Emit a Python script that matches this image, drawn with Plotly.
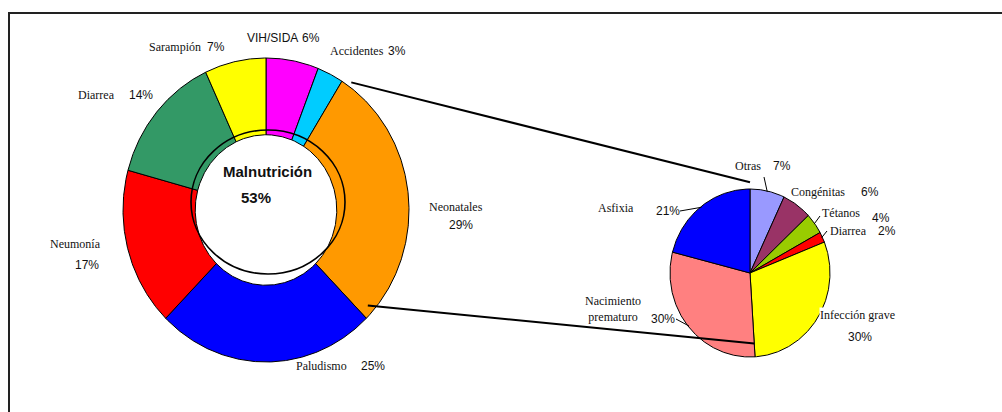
import numpy as np
import plotly.graph_objects as go

# ---------------- data ----------------
donut_labels = ["VIH/SIDA", "Accidentes", "Neonatales", "Paludismo", "Neumonía", "Diarrea", "Sarampión"]
donut_values = [6, 3, 29, 25, 17, 14, 7]
donut_colors = ["#FF00FF", "#00CCFF", "#FF9900", "#0000FF", "#FF0000", "#339966", "#FFFF00"]

neo_labels = ["Otras", "Congénitas", "Tétanos", "Diarrea", "Infección grave", "Nacimiento<br>prematuro", "Asfixia"]
neo_values = [7, 6, 4, 2, 30, 30, 21]
neo_colors = ["#9999FF", "#993366", "#99CC00", "#FF0000", "#FFFF00", "#FF8080", "#0000FF"]

center_label = "Malnutrición"
center_value = 53

# ---------------- layout constants (pixel space) ----------------
W, H = 1002, 412
DONUT = dict(cx=266, cy=210, rx=143, ry=152, hole=0.495)
PIE = dict(cx=750, cy=273, rx=80, ry=84, hole=0.0)
MAL = dict(cx=268, cy=202, rx=77, ry=72)
SERIF = "Liberation Serif, Times New Roman, serif"
SANS = "Liberation Sans, Arial, sans-serif"
FS = 12

# label placement (name center x, name y, pct center x, pct y, name font)
donut_label_pos = [
    (272, 38, 311, 38, SANS),
    (357, 51, 397, 51, SERIF),
    (456, 207, 461, 225, SERIF),
    (321, 366, 373, 366, SERIF),
    (75, 244, 87, 265, SERIF),
    (96, 95, 141, 95, SERIF),
    (175, 47, 216, 47, SERIF),
]
neo_label_pos = [
    (748, 166, 782, 166),
    (818, 192, 870, 192),
    (841, 213, 881, 218),
    (848, 231, 887, 231),
    (857, 315, 860, 337),
    (613, 309, 663, 319),
    (616, 208, 668, 211),
]
# leader line label-side anchor points (None = no leader)
neo_leader_from = [(764, 177), None, (820, 216), (827, 231), None, (676, 319), (680, 211)]


def pt(g, ang_deg, r):
    a = np.deg2rad(ang_deg)
    return g["cx"] + r * g["rx"] * np.sin(a), g["cy"] - r * g["ry"] * np.cos(a)


def wedge(g, a0, a1):
    n = max(8, int(abs(a1 - a0) * 2))
    angs = np.linspace(a0, a1, n)
    xo, yo = pt(g, angs, 1.0)
    if g["hole"] > 0:
        xi, yi = pt(g, angs[::-1], g["hole"])
    else:
        xi, yi = np.array([g["cx"]]), np.array([g["cy"]])
    xs = np.concatenate([xo, xi, xo[:1]])
    ys = np.concatenate([yo, yi, yo[:1]])
    return xs, ys


def cum_angles(values):
    tot = float(sum(values))
    c = np.concatenate([[0], np.cumsum(values)]) / tot * 360.0
    return c


fig = go.Figure()

dang = cum_angles(donut_values)
for i, (lab, v, col) in enumerate(zip(donut_labels, donut_values, donut_colors)):
    xs, ys = wedge(DONUT, dang[i], dang[i + 1])
    fig.add_trace(go.Scatter(x=xs, y=ys, mode="lines", fill="toself", fillcolor=col,
                             line=dict(color="black", width=1), name=lab,
                             hoverinfo="text", text=f"{lab} {v}%", showlegend=False))

pang = cum_angles(neo_values)
for i, (lab, v, col) in enumerate(zip(neo_labels, neo_values, neo_colors)):
    xs, ys = wedge(PIE, pang[i], pang[i + 1])
    fig.add_trace(go.Scatter(x=xs, y=ys, mode="lines", fill="toself", fillcolor=col,
                             line=dict(color="black", width=1), name=lab,
                             hoverinfo="text", text=f"{lab} {v}%", showlegend=False))

shapes = []
# outer frame
shapes.append(dict(type="rect", xref="x", yref="y", x0=9, y0=13, x1=W + 10, y1=H + 10,
                   line=dict(color="#222", width=2)))
# Malnutrición ellipse outline
shapes.append(dict(type="circle", xref="x", yref="y",
                   x0=MAL["cx"] - MAL["rx"], x1=MAL["cx"] + MAL["rx"],
                   y0=MAL["cy"] - MAL["ry"], y1=MAL["cy"] + MAL["ry"],
                   line=dict(color="black", width=1.6)))

# connector lines: from Neonatales slice to the breakdown pie
neo_idx = donut_labels.index("Neonatales")
s1 = pt(DONUT, dang[neo_idx] + 3.3, 1.03)
e1 = pt(PIE, 0.0, 1.08)
s2 = pt(DONUT, dang[neo_idx + 1] - 4.0, 0.95)
e2 = pt(PIE, pang[5], 0.84)
for s, e in [(s1, e1), (s2, e2)]:
    shapes.append(dict(type="line", xref="x", yref="y", x0=s[0], y0=s[1], x1=e[0], y1=e[1],
                       line=dict(color="black", width=2)))

# leader lines on the pie
for i, f in enumerate(neo_leader_from):
    if f is None:
        continue
    mid = (pang[i] + pang[i + 1]) / 2.0
    ex, ey = pt(PIE, mid, 0.99)
    shapes.append(dict(type="line", xref="x", yref="y", x0=f[0], y0=f[1], x1=ex, y1=ey,
                       line=dict(color="black", width=1)))

ann = []


def txt(x, y, t, fam, size=FS, bold=False, bg=None):
    d = dict(x=x, y=y, xref="x", yref="y", text=(f"<b>{t}</b>" if bold else t),
             showarrow=False, xanchor="center", yanchor="middle",
             font=dict(family=fam, size=size, color="#111"))
    if bg:
        d["bgcolor"] = bg
        d["borderpad"] = 0
    ann.append(d)


for lab, v, p in zip(donut_labels, donut_values, donut_label_pos):
    txt(p[0], p[1], lab, p[4])
    txt(p[2], p[3], f"{v}%", SANS)

for i, (lab, v, p) in enumerate(zip(neo_labels, neo_values, neo_label_pos)):
    txt(p[0], p[1], lab, SERIF, bg=("white" if i == 4 else None))
    txt(p[2], p[3], f"{v}%", SANS)

txt(267, 171, center_label, SANS, size=15, bold=True)
txt(256, 197, f"{center_value}%", SANS, size=15, bold=True)

fig.update_layout(
    width=W, height=H,
    margin=dict(l=0, r=0, t=0, b=0),
    paper_bgcolor="white", plot_bgcolor="white",
    xaxis=dict(range=[0, W], visible=False, fixedrange=True),
    yaxis=dict(range=[H, 0], visible=False, fixedrange=True),
    shapes=shapes, annotations=ann, showlegend=False,
)

fig.write_html("out.html", config={"displayModeBar": False},
               post_script="document.body.style.margin='0';document.body.style.overflow='hidden';")
